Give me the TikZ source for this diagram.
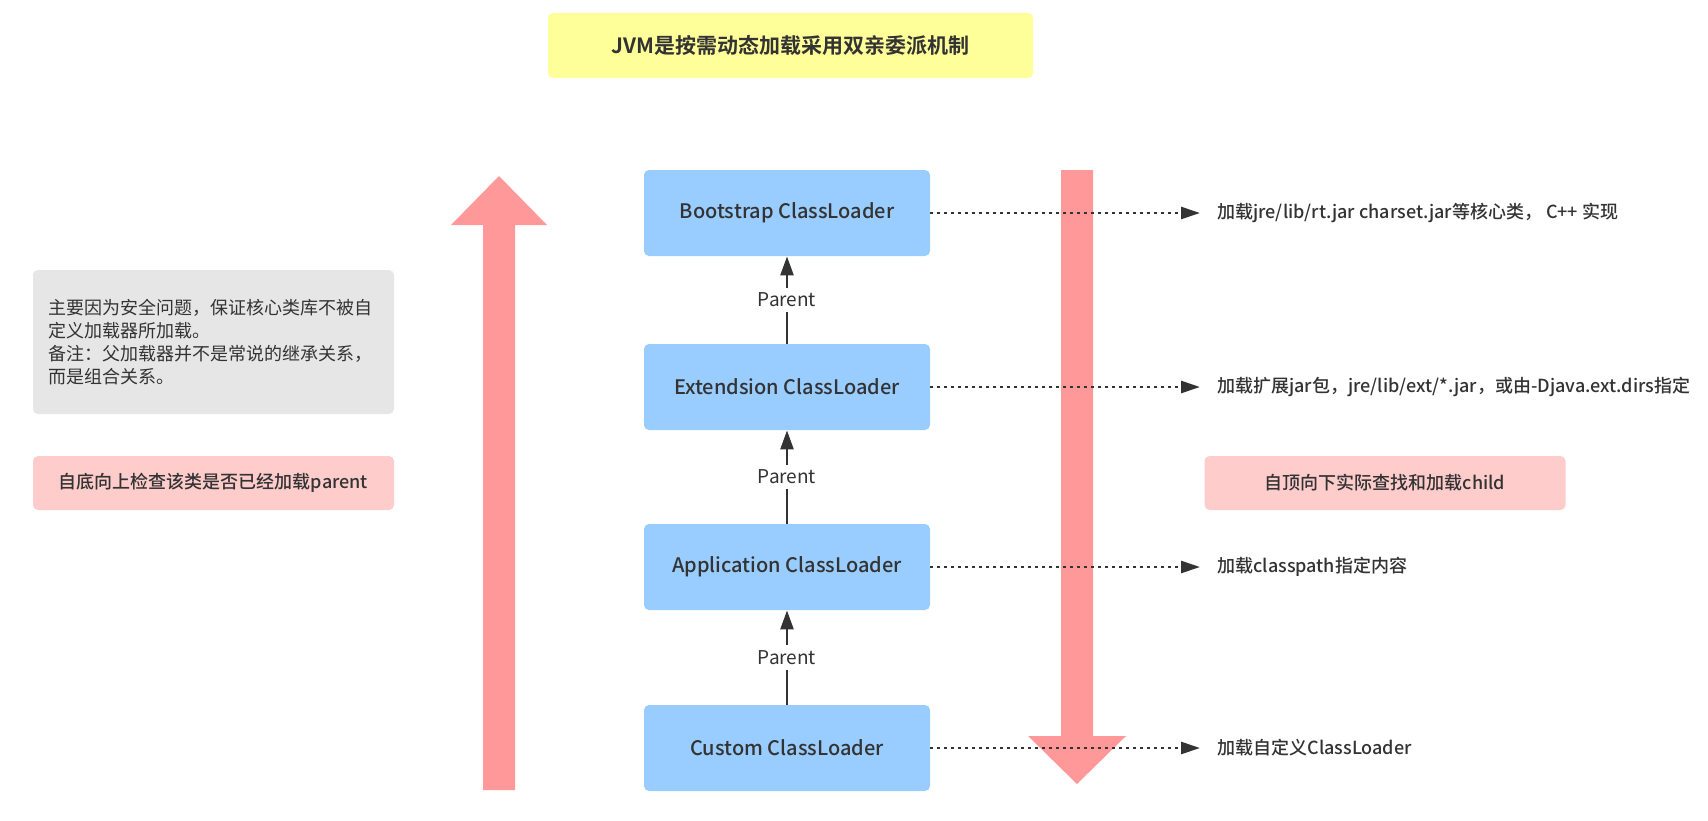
\documentclass[tikz,border=0pt]{standalone}
\usepackage{fontspec}
\setmainfont{Noto Sans CJK SC}[BoldFont={Noto Sans CJK SC Bold}]
\newfontfamily\medfont{Noto Sans CJK SC Medium}
\usepackage{xcolor}
\usetikzlibrary{arrows.meta}
\definecolor{titleyellow}{RGB}{255,255,153}
\definecolor{notegray}{RGB}{230,230,230}
\definecolor{hintpink}{RGB}{255,204,204}
\definecolor{loaderblue}{RGB}{153,204,255}
\definecolor{flowred}{RGB}{255,153,153}
\definecolor{ink}{RGB}{51,51,51}

\begin{document}
\begin{tikzpicture}[x=0.5pt,y=-0.5pt,
 loader/.style={rectangle,rounded corners=2.5pt,fill=loaderblue,minimum width=143pt,minimum height=43pt,text=ink,font=\medfont\fontsize{10}{12}\selectfont},
 hint/.style={rectangle,rounded corners=2.5pt,fill=hintpink,minimum width=180.5pt,minimum height=27pt,text=ink,font=\medfont\fontsize{9}{11}\selectfont},
 parent/.style={-{Triangle[length=9.5pt,width=6.5pt]},ink,line width=1.2pt},
 plabel/.style={fill=white,inner sep=2.5pt,text=ink,font=\fontsize{9.5}{11}\selectfont},
 loadline/.style={-{Triangle[length=9.5pt,width=6pt]},ink,line width=1.3pt,dash pattern=on 1.3pt off 2.2pt},
 desc/.style={anchor=west,inner xsep=8.5pt,inner ysep=0pt,text=ink,font=\medfont\fontsize{9}{11}\selectfont},
 flow/.style={fill=flowred}
]
\useasboundingbox (0,0) rectangle (1708,820);
% big arrows behind everything
\fill[flow] (483,790) -- (483,225) -- (451,225) -- (499,176) -- (547,225) -- (515,225) -- (515,790) -- cycle;
\fill[flow] (1061,170) -- (1061,736) -- (1028,736) -- (1077,784) -- (1126,736) -- (1093,736) -- (1093,170) -- cycle;

\node[rectangle,rounded corners=2.5pt,fill=titleyellow,minimum width=242.5pt,minimum height=32.5pt,text=ink,font=\bfseries\fontsize{10.5}{12}\selectfont] (title) at (790.5,45.5) {JVM是按需动态加载采用双亲委派机制};
\node[rectangle,rounded corners=2.5pt,fill=notegray,minimum width=180.5pt,minimum height=72pt,text width=165.5pt,align=left,text=ink,font=\fontsize{9}{11.5}\selectfont] (note) at (213.5,342) {主要因为安全问题，保证核心类库不被自\\定义加载器所加载。\\备注：父加载器并不是常说的继承关系，\\而是组合关系。};
\node[hint] (up) at (213.5,483) {自底向上检查该类是否已经加载parent};
\node[hint] (down) at (1385,483) {自顶向下实际查找和加载child};

\node[loader] (boot) at (787,213) {Bootstrap ClassLoader};
\node[loader] (ext) at (787,387) {Extendsion ClassLoader};
\node[loader] (app) at (787,567) {Application ClassLoader};
\node[loader] (custom) at (787,748) {Custom ClassLoader};

\draw[parent] (ext) -- node[plabel] {Parent} (boot);
\draw[parent] (app) -- node[plabel] {Parent} (ext);
\draw[parent] (custom) -- node[plabel] {Parent} (app);

\node[desc] (bootdesc) at (1200,213) {加载jre/lib/rt.jar charset.jar等核心类， C++ 实现};
\node[desc] (extdesc) at (1200,387) {加载扩展jar包，jre/lib/ext/*.jar，或由-Djava.ext.dirs指定};
\node[desc] (appdesc) at (1200,567) {加载classpath指定内容};
\node[desc] (customdesc) at (1200,748) {加载自定义ClassLoader};

\draw[loadline] (boot) -- (bootdesc);
\draw[loadline] (ext) -- (extdesc);
\draw[loadline] (app) -- (appdesc);
\draw[loadline] (custom) -- (customdesc);
\end{tikzpicture}
\end{document}
